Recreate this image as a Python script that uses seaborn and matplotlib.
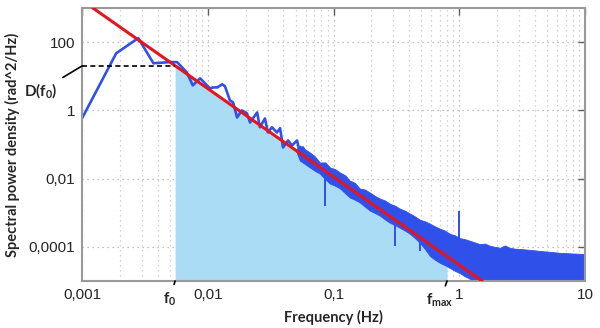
import numpy as np
import pandas as pd
import matplotlib
matplotlib.use('Agg')
import matplotlib.pyplot as plt
import seaborn as sns

# Spectrum, low-frequency part (individual bins visible)
low_freq = [0.001, 0.00187, 0.0028, 0.0037, 0.005, 0.0057, 0.0068, 0.0076, 0.0087,
            0.0104, 0.011, 0.0119, 0.013, 0.0137, 0.015, 0.0159, 0.0171, 0.0187,
            0.0205, 0.0217, 0.0247, 0.026, 0.0285, 0.0301, 0.0324, 0.0355, 0.0376,
            0.0397, 0.0435, 0.0468, 0.0513, 0.0542, 0.0572, 0.0616]
low_psd = [0.58, 47, 131, 24, 26, 26, 13.1, 5.4, 8.7,
           4.4, 4.7, 4.7, 5.8, 5.1, 1.97, 1.72, 0.62, 1.0,
           0.82, 0.44, 0.87, 0.32, 0.58, 0.225, 0.32, 0.225, 0.30,
           0.082, 0.131, 0.094, 0.131, 0.054, 0.082, 0.041]

# Spectrum, high-frequency part (dense noise band: upper / lower envelope)
band_freq = [0.05, 0.054, 0.06, 0.065, 0.071, 0.078, 0.086, 0.094, 0.103, 0.113, 0.124,
             0.135, 0.148, 0.162, 0.178, 0.195, 0.214, 0.234, 0.256, 0.281, 0.31,
             0.338, 0.37, 0.406, 0.445, 0.488, 0.535, 0.585, 0.64, 0.703, 0.77,
             0.844, 0.92, 1.01, 1.1, 1.22, 1.33, 1.46, 1.6, 1.76, 1.93, 2.11, 2.3,
             2.53, 2.8, 3.04, 3.6, 4.39, 5.2, 6.33, 8.0, 10]
band_hi = [0.07, 0.0935, 0.07, 0.0582, 0.045, 0.0296, 0.030, 0.0211, 0.019, 0.0150, 0.0125,
           0.0087, 0.0075, 0.0051, 0.0048, 0.0039, 0.0031, 0.0026, 0.0023, 0.00184, 0.0016,
           0.00131, 0.00115, 0.00094, 0.00078, 0.00062, 0.00056, 0.00048, 0.00040, 0.00034, 0.00030,
           0.00024, 0.00022, 0.00018, 0.00017, 0.00015, 0.000135, 0.00012, 0.000125, 0.000107, 0.000100,
           0.000094, 0.000110, 0.000094, 0.000088, 0.000087, 0.000082, 0.000076, 0.000072, 0.000067,
           0.000064, 0.000062]
band_lo = [0.07, 0.0338, 0.026, 0.0211, 0.017, 0.0140, 0.0095, 0.0071, 0.0062, 0.0051, 0.0037,
           0.0028, 0.0024, 0.0020, 0.0015, 0.00115, 0.00098, 0.00082, 0.00064, 0.00051, 0.00043,
           0.00036, 0.00030, 0.00024, 0.00018, 0.00013, 0.000085, 0.000054, 0.000042, 0.000034, 0.000029,
           0.000024, 0.000020, 0.000017, 0.000014, 0.0000115, 0.000008, 5e-6, 5e-6, 5e-6, 5e-6,
           5e-6, 5e-6, 5e-6, 5e-6, 5e-6, 5e-6, 5e-6, 5e-6, 5e-6,
           5e-6, 5e-6]

# Isolated spikes in the spectrum
spike_freq = [0.0855, 0.31, 0.49, 1.0]
spike_lo = [0.0016, 0.000107, 0.000076, 0.00015]
spike_hi = [0.012, 0.0006, 0.0002, 0.00115]

# Power-law fit and integration range
fit_freq = [0.00122, 1.52]
fit_psd = [1000, 1e-5]
f0, fmax = 0.0055, 0.8
D_f0, D_fmax = 20, 5.3e-5

xticks = [0.001, 0.01, 0.1, 1, 10]
xticklabels = ['0,001', '0,01', '0,1', '1', '10']
yticks = [100, 1, 0.01, 0.0001]
yticklabels = ['100', '1', '0,01', '0,0001']

blue = '#3050ea'
red = '#e3161f'
light = '#aadcf6'

sns.set_theme(style='white')
plt.rcParams['font.family'] = ['Liberation Sans', 'DejaVu Sans']
plt.rcParams['mathtext.fontset'] = 'custom'
plt.rcParams['mathtext.rm'] = 'Lato:bold'
plt.rcParams['mathtext.it'] = 'Lato:bold'
plt.rcParams['mathtext.bf'] = 'Lato:bold'

fig = plt.figure(figsize=(6, 3.28), dpi=100)
ax = fig.add_axes([82 / 600, 1 - 281 / 328, 503 / 600, 273 / 328])
ax.set(xscale='log', yscale='log')

# shaded integration area under the fit
ax.fill_between([f0, fmax], [D_f0, D_fmax], 1e-6, color=light, linewidth=0, zorder=1)

# measured spectrum
low = pd.DataFrame({'f': low_freq, 'psd': low_psd})
sns.lineplot(data=low, x='f', y='psd', ax=ax, color=blue, linewidth=1.9,
             sort=False, estimator=None, zorder=2)
ax.fill_between(band_freq, band_lo, band_hi, color=blue, linewidth=0.6,
                edgecolor=blue, zorder=2)
ax.vlines(spike_freq, spike_lo, spike_hi, color=blue, linewidth=1.4, zorder=2)

# power-law fit
fit = pd.DataFrame({'f': fit_freq, 'psd': fit_psd})
sns.lineplot(data=fit, x='f', y='psd', ax=ax, color=red, linewidth=2.2,
             sort=False, estimator=None, zorder=3)

# D(f0) level
ax.hlines(D_f0, xticks[0], f0, colors='black', linestyles=(0, (3, 2)), linewidth=1.2, zorder=4)

ax.set_xlim(0.001, 10)
ax.set_ylim(1e-5, 1e3)

ax.set_xticks(xticks)
ax.set_xticklabels(xticklabels)
ax.set_yticks(yticks)
ax.set_yticklabels(yticklabels)
ax.minorticks_on()
ax.yaxis.set_minor_locator(matplotlib.ticker.NullLocator())
ax.tick_params(which='major', direction='in', length=5, width=1, color='#606060',
               top=True, right=True, labelsize=11, pad=5)
ax.tick_params(which='minor', length=0)

ax.grid(True, which='major', axis='both', linestyle=(0, (1, 3)), color='#b0b0b0', linewidth=0.9)
ax.grid(True, which='minor', axis='x', linestyle=(0, (1, 3)), color='#c4c4c4', linewidth=0.9)
for s in ax.spines.values():
    s.set_color('#9a9a9a')
    s.set_linewidth(1.5)

ax.set_xlabel('Frequency (Hz)', fontsize=10.5, fontweight='bold', family='Lato', labelpad=6)
ax.set_ylabel('Spectral power density (rad^2/Hz)', fontsize=10.5, fontweight='bold',
              family='Lato', labelpad=6)

# annotations
arrow = dict(arrowstyle='-', color='black', linewidth=1.2, shrinkA=2, shrinkB=0)
ax.annotate(r'$\mathrm{D(f_0)}$', xy=(xticks[0], D_f0), xytext=(-30, -18),
            textcoords='offset points', fontsize=11, ha='center', va='center',
            arrowprops=arrow, annotation_clip=False)
ax.annotate(r'$\mathrm{f_0}$', xy=(f0, 1e-5), xytext=(-4, -13),
            textcoords='offset points', fontsize=11, ha='center', va='center',
            arrowprops=arrow, annotation_clip=False)
ax.annotate(r'$\mathrm{f_{max}}$', xy=(fmax, 1e-5), xytext=(-5, -14),
            textcoords='offset points', fontsize=11, ha='center', va='center',
            arrowprops=arrow, annotation_clip=False)

fig.savefig('out.png', dpi=100)
